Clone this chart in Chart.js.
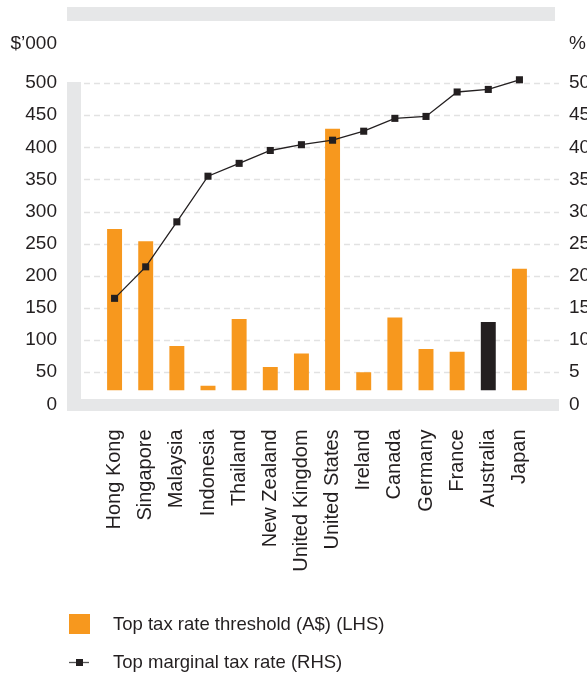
<!DOCTYPE html>
<html>
<head>
<meta charset="utf-8">
<script src="https://cdn.jsdelivr.net/npm/chart.js@4.4.1/dist/chart.umd.min.js"></script>
<style>
  html, body { margin: 0; padding: 0; background: #fff; }
  #wrap { width: 587px; height: 673px; }
</style>
</head>
<body>
<div id="wrap"><canvas id="taxChart" width="587" height="673"></canvas></div>
<script>
// data
const countries = ['Hong Kong', 'Singapore', 'Malaysia', 'Indonesia', 'Thailand', 'New Zealand',
  'United Kingdom', 'United States', 'Ireland', 'Canada', 'Germany', 'France', 'Australia', 'Japan'];
const threshold = [273, 254, 91, 29, 133, 58, 79, 429, 50, 135, 86, 82, 128, 211];   // $'000
const topRate = [16.5, 21.4, 28.4, 35.5, 37.5, 39.5, 40.4, 41.1, 42.5, 44.5, 44.8, 48.6, 49.0, 50.5]; // %
const leftTicks = [0, 500, 50];
const rightTicks = [0, 50, 5];
const highlight = 'Australia';

const ORANGE = '#f7981e';
const DARK = '#231f20';
const BAND = '#e6e7e8';
const GRID = '#e2e2e2';
const FONT = "'Liberation Sans', Arial, sans-serif";

const barColors = countries.map(c => c === highlight ? DARK : ORANGE);

/* gray frame bands + dashed grid, drawn under the bars */
const backdrop = {
  id: 'backdrop',
  beforeDatasetsDraw(chart) {
    const ctx = chart.ctx;
    const y = chart.scales.y;
    ctx.save();
    ctx.fillStyle = BAND;
    ctx.fillRect(67, 7, 488, 14);
    ctx.fillRect(67, 82, 14, 329);
    ctx.fillRect(67, 399, 492, 12);

    ctx.strokeStyle = GRID;
    ctx.lineWidth = 1.5;
    ctx.setLineDash([6, 4]);
    y.ticks.forEach(t => {
      if (t.value === 0) return;
      const py = Math.round(y.getPixelForValue(t.value)) + 0.5;
      ctx.beginPath();
      ctx.moveTo(84, py);
      ctx.lineTo(559, py);
      ctx.stroke();
    });
    ctx.restore();
  },
  afterDraw(chart) {
    const ctx = chart.ctx;
    ctx.save();
    ctx.fillStyle = DARK;
    ctx.font = '19px ' + FONT;
    ctx.textBaseline = 'middle';
    ctx.textAlign = 'right';
    ctx.fillText('$’000', 57, 44);
    ctx.textAlign = 'left';
    ctx.fillText('%', 569, 44);

    // legend
    const ds = chart.data.datasets;
    ctx.font = '18.5px ' + FONT;
    ctx.fillStyle = ORANGE;
    ctx.fillRect(69, 614, 21, 20);
    ctx.fillStyle = DARK;
    ctx.fillText(ds[0].label, 113, 625);

    ctx.strokeStyle = '#555';
    ctx.lineWidth = 1.3;
    ctx.beginPath();
    ctx.moveTo(69, 662.5);
    ctx.lineTo(89, 662.5);
    ctx.stroke();
    ctx.fillStyle = DARK;
    ctx.fillRect(76, 659, 7, 7);
    ctx.fillText(ds[1].label, 113, 663);
    ctx.restore();
  }
};

new Chart(document.getElementById('taxChart'), {
  data: {
    labels: countries,
    datasets: [{
      type: 'bar',
      label: 'Top tax rate threshold (A$) (LHS)',
      data: threshold,
      backgroundColor: barColors,
      base: 22,
      yAxisID: 'y',
      barPercentage: 0.48,
      categoryPercentage: 1,
      order: 2
    }, {
      type: 'line',
      label: 'Top marginal tax rate (RHS)',
      data: topRate,
      yAxisID: 'y2',
      borderColor: DARK,
      borderWidth: 1.3,
      pointStyle: 'rect',
      pointRadius: 5,
      pointBackgroundColor: DARK,
      pointBorderWidth: 0,
      tension: 0,
      clip: false,
      order: 1
    }]
  },
  options: {
    responsive: false,
    animation: false,
    devicePixelRatio: 1,
    layout: { padding: { top: 83, left: 0, right: 0, bottom: 0 } },
    plugins: { legend: { display: false }, tooltip: { enabled: false } },
    scales: {
      x: {
        grid: { display: false, drawTicks: false },
        border: { display: false },
        ticks: {
          minRotation: 90, maxRotation: 90, padding: 25, autoSkip: false,
          color: DARK, font: { family: FONT, size: 20 }
        },
        afterFit(s) { s.height = 268.6; }
      },
      y: {
        position: 'left',
        min: leftTicks[0], max: leftTicks[1],
        grid: { display: false, drawTicks: false },
        border: { display: false },
        ticks: { stepSize: leftTicks[2], padding: 42, color: DARK, font: { family: FONT, size: 19 } },
        afterFit(s) { s.width = 99; }
      },
      y2: {
        position: 'right',
        min: rightTicks[0], max: rightTicks[1],
        grid: { display: false, drawTicks: false },
        border: { display: false },
        ticks: { stepSize: rightTicks[2], padding: 34, color: DARK, font: { family: FONT, size: 19 } },
        afterFit(s) { s.width = 52; }
      }
    }
  },
  plugins: [backdrop]
});
</script>
</body>
</html>
